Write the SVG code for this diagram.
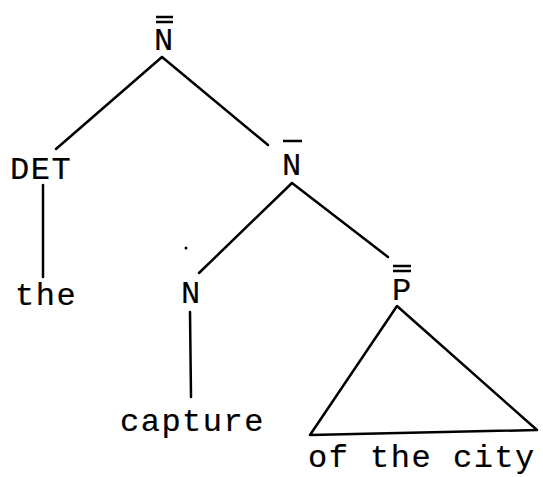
<svg xmlns="http://www.w3.org/2000/svg" width="543" height="477" viewBox="0 0 543 477">
<style>
.t{font-family:"Liberation Mono","Courier New",monospace;font-size:32px;letter-spacing:1.5px;fill:#000;stroke:#000;stroke-width:0.2}
.l{stroke:#000;stroke-width:2.5;fill:none;stroke-linecap:round;stroke-linejoin:round}
.b{stroke:#000;stroke-width:2.5}
</style>
<rect width="543" height="477" fill="#fff"/>
<g id="connectors">
<line class="l" x1="162" y1="57" x2="56" y2="149"/>
<line class="l" x1="162" y1="57" x2="268" y2="145"/>
<line class="l" x1="43" y1="185" x2="43" y2="277"/>
<line class="l" x1="292" y1="183" x2="199" y2="273"/>
<line class="l" x1="292" y1="183" x2="388" y2="257"/>
<line class="l" x1="190" y1="312" x2="191" y2="397"/>
</g>
<g id="node-Nbarbar">
<line class="b" x1="156" y1="17" x2="173" y2="17"/>
<line class="b" x1="156" y1="22" x2="173" y2="22"/>
<text class="t" x="154" y="50">N</text>
</g>
<g id="node-DET"><text class="t" x="10" y="179">DET</text></g>
<g id="node-the"><text class="t" x="15" y="305">the</text></g>
<g id="node-Nbar">
<line class="b" x1="283" y1="141" x2="302" y2="141"/>
<text class="t" x="282" y="175">N</text>
</g>
<g id="node-dot"><circle cx="186" cy="248" r="1.5" fill="#000"/></g>
<g id="node-N"><text class="t" x="181" y="303">N</text></g>
<g id="node-capture"><text class="t" x="120" y="431">capture</text></g>
<g id="node-Pbarbar">
<line class="b" x1="393" y1="266" x2="411" y2="266"/>
<line class="b" x1="393" y1="271" x2="411" y2="271"/>
<text class="t" x="392" y="300">P</text>
<polygon class="l" points="397,306 310,435 537,430"/>
</g>
<g id="node-ofthecity"><text class="t" x="308" y="467">of the city</text></g>
</svg>
